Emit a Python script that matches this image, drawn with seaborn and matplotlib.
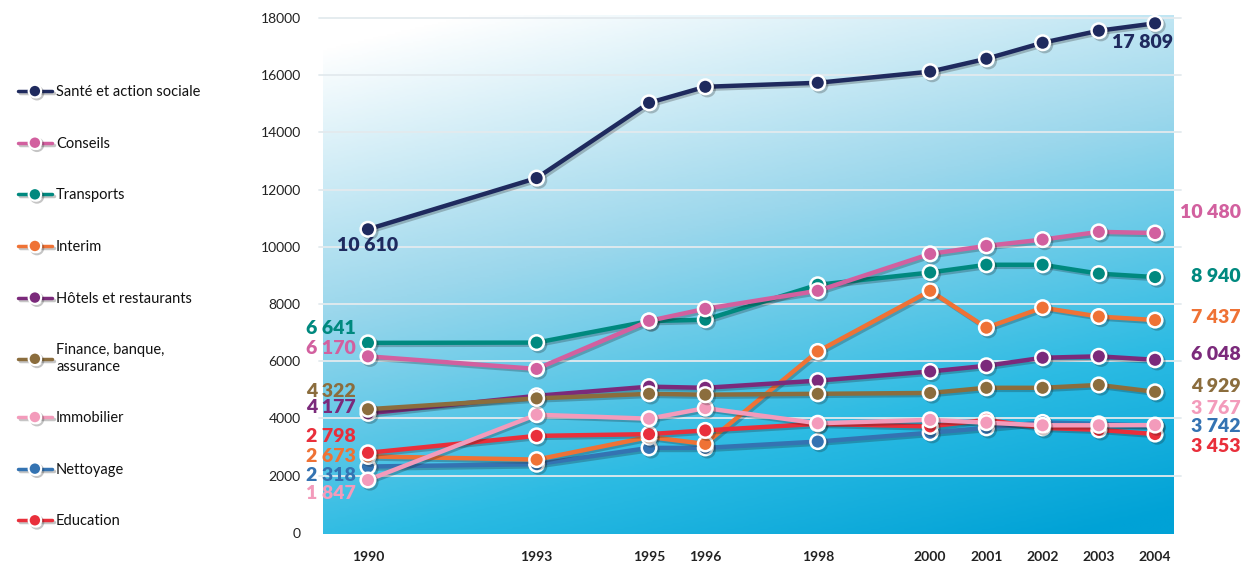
import numpy as np
import pandas as pd
import matplotlib
matplotlib.use("Agg")
import matplotlib.pyplot as plt
import matplotlib.patheffects as pe
from matplotlib.colors import LinearSegmentedColormap
from matplotlib.lines import Line2D
import seaborn as sns

# Data
years = [1990, 1993, 1995, 1996, 1998, 2000, 2001, 2002, 2003, 2004]
sante = [10610, 12400, 15030, 15590, 15730, 16120, 16570, 17130, 17550, 17809]
conseils = [6170, 5730, 7410, 7830, 8460, 9750, 10030, 10250, 10520, 10480]
transports = [6641, 6650, 7400, 7450, 8670, 9100, 9370, 9370, 9060, 8940]
interim = [2673, 2560, 3350, 3110, 6340, 8460, 7170, 7870, 7560, 7437]
hotels = [4177, 4790, 5110, 5070, 5320, 5640, 5840, 6120, 6170, 6048]
finance = [4322, 4700, 4860, 4830, 4860, 4890, 5070, 5070, 5170, 4929]
immobilier = [1847, 4130, 3990, 4360, 3830, 3950, 3850, 3760, 3760, 3767]
nettoyage = [2318, 2400, 2970, 2970, 3190, 3500, 3670, 3860, 3810, 3742]
education = [2798, 3390, 3450, 3580, 3810, 3720, 3950, 3670, 3600, 3453]

sectors = ["Santé et action sociale", "Conseils", "Transports", "Interim",
           "Hôtels et restaurants", "Finance, banque,\nassurance", "Immobilier",
           "Nettoyage", "Education"]
values = [sante, conseils, transports, interim, hotels, finance, immobilier,
          nettoyage, education]
colors = ["#1f2a5e", "#d2609f", "#00897f", "#ef7235", "#7b2a7b", "#8b6d3d",
          "#f39bbb", "#3473b2", "#e92f3b"]

# value labels (text, y position) shown left of 1990 and right of 2004
left_labels = [("6 641", 7133), ("6 170", 6434), ("4 322", 4930), ("4 177", 4370),
               ("2 798", 3357), ("2 673", 2657), ("2 318", 1993), ("1 847", 1364)]
left_colors = [colors[2], colors[1], colors[5], colors[4], colors[8], colors[3],
               colors[7], colors[6]]
right_labels = [("10 480", 11189), ("8 940", 8962), ("7 437", 7517), ("6 048", 6224),
                ("4 929", 5115), ("3 767", 4336), ("3 742", 3706), ("3 453", 3017)]
right_colors = [colors[1], colors[2], colors[3], colors[4], colors[5], colors[6],
                colors[7], colors[8]]

rows = []
for name, vals in zip(sectors, values):
    for yr, v in zip(years, vals):
        rows.append({"sector": name, "year": yr, "value": v})
df = pd.DataFrame(rows)

sns.set_theme(style="white")
plt.rcParams["font.family"] = ["Lato", "DejaVu Sans"]

fig = plt.figure(figsize=(12.47, 5.63), dpi=100)
ax = fig.add_axes([0.259, 0.0515, 0.6817, 0.9219])

# gradient background: white top-left to cyan bottom-right
gx, gy = np.meshgrid(np.linspace(0, 1, 300), np.linspace(1, 0, 300))
t = np.clip(0.78 * (1 - gy) + 0.3 * gx - 0.05, 0, 1)
cmap = LinearSegmentedColormap.from_list(
    "bg", [(0, "#ffffff"), (0.4, "#9bd7ec"), (0.75, "#2cbbe3"), (1, "#00a2d6")])
ax.imshow(t, cmap=cmap, extent=[0, 1, 0, 1], transform=ax.transAxes,
          aspect="auto", zorder=0, interpolation="bilinear")

for yv in range(2000, 18001, 2000):
    ax.axhline(yv, xmin=-0.005, xmax=1.009, color="#e3eaee", lw=1.3,
               zorder=1, clip_on=False)

shadow = [pe.SimpleLineShadow(offset=(1.5, -1.5), shadow_color="k", alpha=0.25),
          pe.Normal()]
draw_order = [7, 3, 8, 6, 4, 5, 2, 1, 0]
for i in draw_order:
    sns.lineplot(data=df[df["sector"] == sectors[i]], x="year", y="value",
                 color=colors[i], marker="o", markersize=10.5,
                 markeredgecolor="white", markeredgewidth=1.8,
                 linewidth=3.2, ax=ax, zorder=3 + draw_order.index(i),
                 path_effects=shadow)

label_font = dict(fontsize=14, fontweight="heavy")
for (txt, yv), c in zip(left_labels, left_colors):
    ax.text(1989.78, yv, txt, color=c, ha="right", va="center", clip_on=False,
            **label_font)
for (txt, yv), c in zip(right_labels, right_colors):
    ax.text(2005.52, yv, txt, color=c, ha="right", va="center", clip_on=False,
            **label_font)
ax.text(1990, 10045, "10 610", color=colors[0], ha="center", va="center",
        zorder=20, **label_font)
ax.text(2004.32, 17133, "17 809", color=colors[0], ha="right", va="center",
        zorder=20, **label_font)

ax.set_xlim(1989.2, 2004.32)
ax.set_ylim(-40, 18100)
ax.set_xticks(years)
ax.set_xticklabels([str(y) for y in years], fontweight="bold", fontsize=10,
                   color="#222222")
ax.set_yticks(range(0, 18001, 2000))
ax.set_yticklabels([str(v) for v in range(0, 18001, 2000)], fontsize=10,
                   color="#222222")
ax.tick_params(axis="both", length=0)
ax.tick_params(axis="y", pad=16)
ax.tick_params(axis="x", pad=12)
ax.set_xlabel("")
ax.set_ylabel("")
for s in ax.spines.values():
    s.set_visible(False)

handles = [Line2D([0], [0], color=c, lw=2.5, marker="o", markersize=9,
                  markeredgecolor="white", markeredgewidth=1.5,
                  path_effects=shadow) for c in colors]
fig.legend(handles, sectors, loc="upper left", bbox_to_anchor=(0.004, 0.872),
           frameon=False, fontsize=10.5, labelspacing=2.58, handlelength=2.3,
           handletextpad=0.3, labelcolor="#111111")

fig.savefig("out.png", dpi=100)
